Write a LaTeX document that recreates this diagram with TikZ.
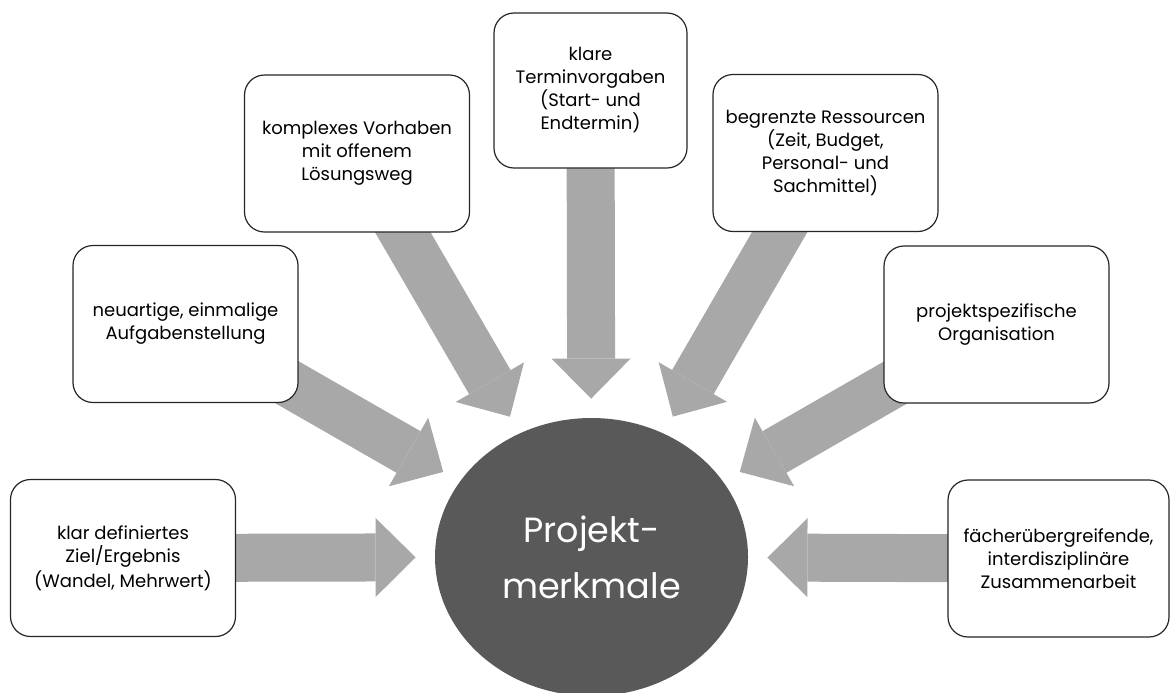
\documentclass[tikz,border=0pt]{standalone}
\usepackage{fontspec}
\setmainfont{Poppins}
\usetikzlibrary{arrows.meta,shapes.geometric,backgrounds}

\definecolor{pmdark}{HTML}{595959}
\definecolor{flowgray}{HTML}{A8A8A8}

\tikzset{
  merkmal/.style={draw=black!85, line width=0.6pt, fill=white,
    rounded corners=10pt, minimum width=112.5pt, minimum height=78.5pt,
    align=center, inner sep=2pt, font=\fontsize{9}{11.5}\selectfont},
  flow/.style={draw=flowgray, line width=24pt, shorten >=9.5pt,
    -{Triangle[width=39.5pt,length=20pt,line width=0pt]}}
}

\begin{document}
\begin{tikzpicture}[x=0.5pt,y=-0.5pt]
\useasboundingbox (0,0) rectangle (1170,692);

% centre
\node[ellipse, fill=pmdark, minimum width=156.5pt, minimum height=139pt,
  inner sep=0pt, text=white, align=center,
  font=\fontsize{17.5}{28}\selectfont] (pm) at (591.5,557) {Projekt-\\merkmale};

% features
\node[merkmal] (ziel) at (123,558)
  {klar definiertes\\Ziel/Ergebnis\\[1pt](Wandel, Mehrwert)};
\node[merkmal] (aufgabe) at (185.5,324)
  {neuartige, einmalige\\Aufgabenstellung};
\node[merkmal] (vorhaben) at (357,153.5)
  {komplexes Vorhaben\\mit offenem\\Lösungsweg};
\node[merkmal, minimum width=96.5pt, minimum height=77.5pt] (termin) at (590.5,90.5)
  {klare\\Terminvorgaben\\(Start- und\\Endtermin)};
\node[merkmal] (ressource) at (825.5,153)
  {begrenzte Ressourcen\\(Zeit, Budget,\\Personal- und\\Sachmittel)};
\node[merkmal] (orga) at (996.5,324.5)
  {projektspezifische\\Organisation};
\node[merkmal, minimum width=110.5pt] (team) at (1058.5,558.5)
  {fächerübergreifende,\\interdisziplinäre\\Zusammenarbeit};

% arrows behind the boxes
\begin{pgfonlayer}{background}
\foreach \b in {ziel,aufgabe,vorhaben,termin,ressource,orga,team}
  \draw[flow] (\b.center) -- (pm);
\end{pgfonlayer}
\end{tikzpicture}
\end{document}
